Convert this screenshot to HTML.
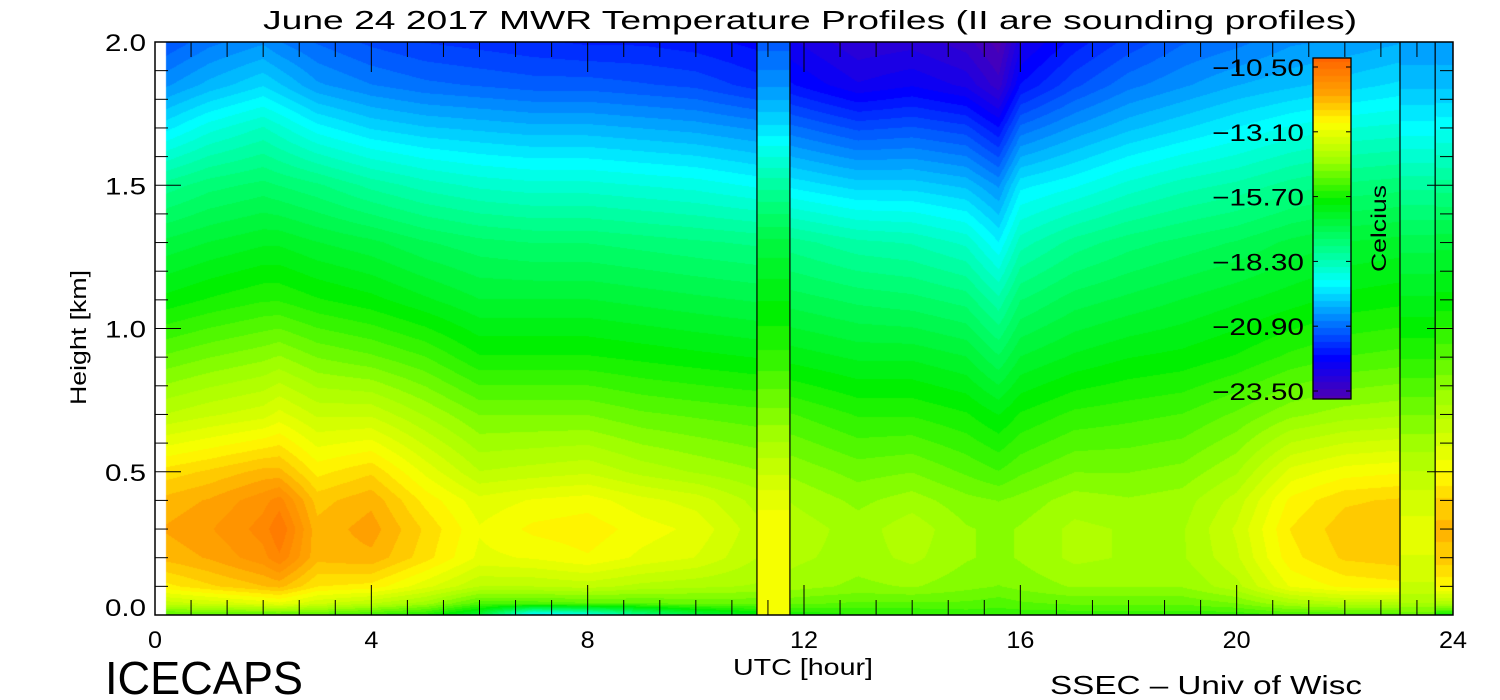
<!DOCTYPE html>
<html><head><meta charset="utf-8">
<style>
body{margin:0;background:#fff;width:1500px;height:700px;overflow:hidden;position:relative;font-family:"Liberation Sans",sans-serif;}
svg text{font-family:"Liberation Sans",sans-serif;fill:#000;}
</style></head><body>
<canvas id="cv" width="1500" height="700" style="position:absolute;left:0;top:0"></canvas>
<svg id="ov" width="1500" height="700" style="position:absolute;left:0;top:0">
<text x="263" y="29" font-size="26" textLength="1094" lengthAdjust="spacingAndGlyphs">June 24 2017 MWR Temperature Profiles (II are sounding profiles)</text>
<text transform="translate(86,405) rotate(-90)" x="0" y="0" font-size="22" textLength="135" lengthAdjust="spacingAndGlyphs">Height [km]</text>
<text x="733" y="675" font-size="23" textLength="140" lengthAdjust="spacingAndGlyphs">UTC [hour]</text>
<text x="105" y="694" font-size="46" textLength="198" lengthAdjust="spacingAndGlyphs">ICECAPS</text>
<text x="1050" y="694" font-size="26" textLength="312" lengthAdjust="spacingAndGlyphs">SSEC – Univ of Wisc</text>
<text transform="translate(1386,272) rotate(-90)" x="0" y="0" font-size="21" textLength="87" lengthAdjust="spacingAndGlyphs">Celcius</text>
</svg>
<script>
// ---- data ----
const heights=[0,0.04,0.1,0.2,0.3,0.4,0.5,0.7,0.9,1.1,1.3,1.5,1.7,1.85,2.0];
const mwrTimes=[0.2,1,2,2.3,3,4,5,6,7,8,9,10,11.1,11.8,13,14,15,15.6,16,17,18,19,20,21,22,23.1,23.7,24];
const mwrTemps=[
[-15.2,-13.9,-12.8,-12.1,-11.9,-12.1,-12.6,-14,-15,-16,-16.8,-17.8,-19.3,-20.3,-21],
[-15.2,-13.7,-12.5,-11.9,-11.7,-11.9,-12.4,-13.8,-14.8,-15.8,-16.6,-17.5,-18.8,-19.9,-20.6],
[-15.2,-13.4,-12.2,-11.5,-11.3,-11.5,-12.1,-13.6,-14.6,-15.6,-16.4,-17.3,-18.4,-19.5,-20.3],
[-15.2,-13.3,-12.1,-11.2,-10.9,-11.3,-12.1,-13.4,-14.5,-15.6,-16.4,-17.4,-18.6,-19.7,-20.5],
[-15.2,-13.7,-12.7,-12.1,-12.1,-12.3,-12.8,-13.8,-14.8,-15.8,-16.6,-17.6,-19.1,-20.2,-20.8],
[-15.4,-14,-12.8,-12,-11.8,-12,-12.5,-13.8,-15,-16,-16.8,-18,-19.5,-20.5,-21.1],
[-15.7,-14.4,-13.4,-12.6,-12.5,-12.8,-13.3,-14.3,-15.3,-16.3,-17.1,-18.3,-19.7,-20.7,-21.3],
[-16.7,-15.2,-14,-13.3,-13.2,-13.4,-14,-14.8,-15.8,-16.6,-17.3,-18.5,-19.8,-20.8,-21.4],
[-19.5,-15.2,-14,-13.2,-12.9,-13.2,-13.9,-14.8,-15.8,-16.6,-17.4,-18.6,-19.9,-20.9,-21.5],
[-19,-15.1,-13.9,-13,-12.8,-13.1,-13.8,-14.8,-15.8,-16.6,-17.4,-18.6,-19.9,-20.9,-21.6],
[-17.8,-15.1,-14.1,-13.3,-13.1,-13.4,-14.1,-15,-15.9,-16.7,-17.5,-18.7,-20,-21,-21.6],
[-16.8,-15,-14.2,-13.5,-13.3,-13.6,-14.3,-15.1,-16,-16.8,-17.6,-18.8,-20.1,-21.1,-21.7],
[-16.2,-15,-14.3,-14,-13.9,-14.1,-14.5,-15.2,-16.1,-16.9,-17.7,-19,-20.3,-21.4,-21.9],
[-15.8,-15,-14.4,-14.2,-14.1,-14.3,-14.6,-15.3,-16.2,-17,-17.8,-19.3,-20.7,-21.8,-22.3],
[-15.6,-15.1,-14.6,-14.4,-14.4,-14.6,-14.9,-15.6,-16.4,-17.2,-18.1,-19.6,-21.1,-22.3,-22.8],
[-15.6,-15.1,-14.5,-14.2,-14.1,-14.4,-14.8,-15.6,-16.4,-17.3,-18.2,-19.6,-21,-22.1,-22.7],
[-15.5,-15.1,-14.7,-14.5,-14.5,-14.7,-15.1,-15.8,-16.6,-17.5,-18.5,-19.8,-21.2,-22.4,-23],
[-15.5,-15.2,-14.8,-14.6,-14.6,-14.8,-15.3,-16.1,-17.1,-18.1,-19.2,-20.3,-21.8,-23,-23.5],
[-15.5,-15.1,-14.7,-14.5,-14.5,-14.7,-15.1,-15.8,-16.6,-17.4,-18.3,-19.3,-20.7,-21.8,-22.4],
[-15.5,-15,-14.5,-14.2,-14.2,-14.4,-14.8,-15.5,-16.3,-17,-17.8,-19,-20.2,-21.1,-21.7],
[-15.5,-15,-14.5,-14.3,-14.3,-14.5,-14.8,-15.4,-16.1,-16.8,-17.5,-18.6,-19.8,-20.6,-21.2],
[-15.5,-15,-14.5,-14.3,-14.3,-14.4,-14.7,-15.3,-16,-16.6,-17.3,-18.3,-19.5,-20.3,-20.8],
[-15.5,-14.8,-14.1,-13.8,-13.7,-13.9,-14.3,-15,-15.8,-16.4,-17.1,-18.1,-19.2,-20,-20.6],
[-15.3,-14.3,-13.2,-12.8,-12.7,-12.9,-13.4,-14.6,-15.5,-16.2,-16.8,-17.8,-18.9,-19.8,-20.3],
[-15.3,-14.1,-12.9,-12.4,-12.3,-12.5,-13.1,-14.4,-15.3,-16,-16.6,-17.6,-18.7,-19.6,-20.2],
[-15.3,-14.1,-12.8,-12.3,-12.2,-12.4,-13,-14.3,-15.2,-15.9,-16.5,-17.5,-18.6,-19.4,-20],
[-15.8,-14.2,-12.9,-12.3,-12.1,-12.4,-13,-14.1,-15.1,-16,-16.7,-17.8,-19,-19.8,-20.2],
[-15.8,-14.2,-12.9,-12.3,-12.1,-12.4,-13,-14.1,-15.1,-16,-16.7,-17.8,-19,-19.8,-20.2]
];
const soundStart=[11.13,23.02];
const soundEnd=[11.74,23.67];
const soundTemps=[
[-13.2,-13,-13.1,-13.1,-13.1,-13.3,-13.8,-14.7,-15.5,-16.1,-16.8,-18,-19.4,-20.3,-20.9],
[-15,-14.3,-13.8,-13.5,-13.4,-13.6,-14,-14.8,-15.6,-16.3,-17,-18,-19.1,-19.8,-20.2]
];
const xTicks=[0,4,8,12,16,20,24];
const yTicks=[0.0,0.5,1.0,1.5,2.0];
const cbLabels=["−10.50","−13.10","−15.70","−18.30","−20.90","−23.50"];
const tMin=-23.5,tMax=-10.5;
// ---- geometry ----
const L=155,R=1453,T=42,B=615;
const xs=t=>L+(R-L)*t/24, ys=h=>B-(B-T)*h/2;
const stops=[[0,[255,100,0]],[0.1,[255,160,0]],[0.19,[255,255,0]],[0.3,[160,255,0]],[0.42,[0,240,0]],[0.55,[0,255,128]],[0.66,[0,255,255]],[0.75,[0,150,255]],[0.88,[0,0,255]],[1,[80,0,176]]];
function cmap(v){let f=(tMax-v)/(tMax-tMin);f=Math.max(0,Math.min(1,f));f=Math.round(f*50)/50;
 for(let i=1;i<stops.length;i++){if(f<=stops[i][0]){const a=stops[i-1],b=stops[i],u=(f-a[0])/(b[0]-a[0]);return a[1].map((c,k)=>Math.round(c+(b[1][k]-c)*u));}}return stops[stops.length-1][1];}
function prof(p,h){for(let i=1;i<heights.length;i++){if(h<=heights[i]){const u=(h-heights[i-1])/(heights[i]-heights[i-1]);return p[i-1]+(p[i]-p[i-1])*u;}}return p[p.length-1];}
const cv=document.getElementById('cv'),ctx=cv.getContext('2d');
const img=ctx.createImageData(R-L,B-T);
for(let px=0;px<R-L;px++){const t=(px+0.5)*24/(R-L);if(t<mwrTimes[0])continue;
 let sp=null;for(let s=0;s<soundStart.length;s++)if(t>=soundStart[s]&&t<soundEnd[s])sp=soundTemps[s];
 let j=1;while(j<mwrTimes.length-1&&mwrTimes[j]<t)j++;const u=Math.max(0,Math.min(1,(t-mwrTimes[j-1])/(mwrTimes[j]-mwrTimes[j-1])));
 for(let py=0;py<B-T;py++){const h=(B-T-py-0.5)*2/(B-T);let v;
  if(sp)v=prof(sp,h);else v=prof(mwrTemps[j-1],h)*(1-u)+prof(mwrTemps[j],h)*u;
  const c=cmap(v),k=(py*(R-L)+px)*4;img.data[k]=c[0];img.data[k+1]=c[1];img.data[k+2]=c[2];img.data[k+3]=255;}}
ctx.putImageData(img,L,T);
// colorbar
const cbX=1313,cbW=38,cbT=58,cbB=399;
for(let y=cbT;y<cbB;y++){const v=tMax-(tMax-tMin)*(y-cbT)/(cbB-cbT);const c=cmap(v);ctx.fillStyle=`rgb(${c})`;ctx.fillRect(cbX,y,cbW,1);}
// ---- overlay ----
const NS='http://www.w3.org/2000/svg',ov=document.getElementById('ov');
function mk(tag,at,txt){const e=document.createElementNS(NS,tag);for(const k in at)e.setAttribute(k,at[k]);if(txt!==undefined)e.textContent=txt;ov.appendChild(e);return e;}
let e;
for(let s=0;s<soundStart.length;s++){
 e=mk('line',{x1:xs(soundStart[s]),x2:xs(soundStart[s]),y1:T,y2:B,stroke:'#000','stroke-width':1.2});
 
 
 e=mk('line',{x1:xs(soundEnd[s]),x2:xs(soundEnd[s]),y1:T,y2:B,stroke:'#000','stroke-width':1.2});
 
 
}
e=mk('rect',{x:L,y:T,width:R-L,height:B-T,fill:'none',stroke:'#000','stroke-width':1.5});


for(let t=0;t<=24.001;t+=2/3){const maj=Math.abs(t/4-Math.round(t/4))<1e-3;const len=maj?30:15;
 e=mk('line',{x1:xs(t),x2:xs(t),y1:B,y2:B-len,stroke:'#000'});
 
 
 e=mk('line',{x1:xs(t),x2:xs(t),y1:T,y2:T+len,stroke:'#000'});
 
 }
xTicks.forEach(t=>{const w=String(t).length*14;e=mk('text',{x:xs(t)-w/2,y:648,'font-size':24,textLength:w,lengthAdjust:'spacingAndGlyphs'},String(t));
 
 });
for(let i=0;i<=20;i++){const h=i/10,maj=i%5===0,len=maj?26:13;
 e=mk('line',{x1:L,x2:L+len,y1:ys(h),y2:ys(h),stroke:'#000'});
 
 
 e=mk('line',{x1:R,x2:R-len,y1:ys(h),y2:ys(h),stroke:'#000'});
 
 }
yTicks.forEach(h=>{e=mk('text',{x:105,y:ys(h)+(h===0?1:9),'font-size':24,textLength:41,lengthAdjust:'spacingAndGlyphs'},h.toFixed(1));
 
 });
e=mk('rect',{x:cbX,y:cbT,width:cbW,height:cbB-cbT,fill:'none',stroke:'#000','stroke-width':1.3});


cbLabels.forEach((lab,i)=>{const y=67+i*64.8;
 e=mk('text',{x:1212,y:y+9,'font-size':24,textLength:92,lengthAdjust:'spacingAndGlyphs'},lab);
 
 
 e=mk('line',{x1:cbX,x2:cbX+5,y1:y,y2:y,stroke:'#000'});
 
 
 e=mk('line',{x1:cbX+cbW,x2:cbX+cbW-5,y1:y,y2:y,stroke:'#000'});
 
 });
</script>
</body></html>
